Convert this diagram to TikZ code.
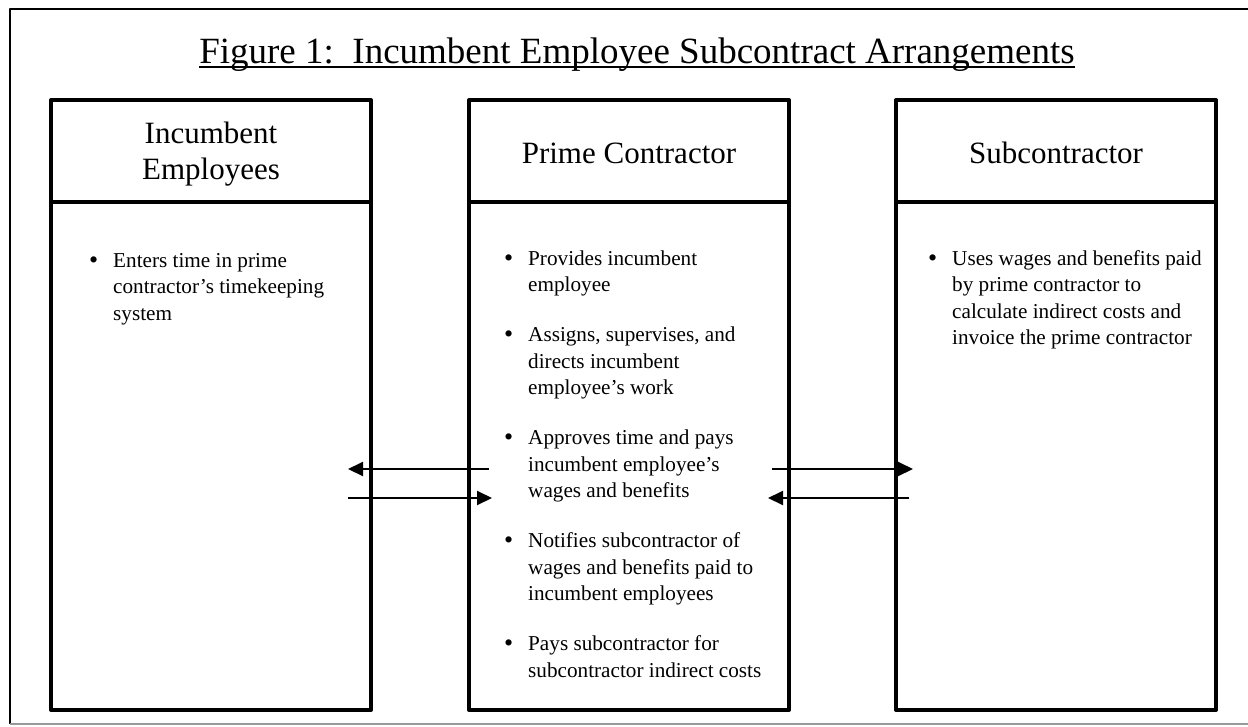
\documentclass[tikz,border=0pt]{standalone}
\usepackage{fontspec}
\setmainfont{Liberation Serif}
\usetikzlibrary{arrows.meta}

\begin{document}
\begin{tikzpicture}[x=1pt, y=-1pt, line join=round,
  box/.style={draw, line width=4pt, minimum width=320pt, minimum height=610pt, inner sep=0pt},
  headtext/.style={anchor=base, align=center, font=\fontsize{31}{36.5}\selectfont},
  bodytext/.style={anchor=base west, align=left, inner sep=0pt, font=\fontsize{21.2}{26.5}\selectfont},
  flow/.style={line width=2pt, -{Triangle[length=15pt, width=14pt]}}]

\useasboundingbox (0,0) rectangle (1248,726);

% page frame
\draw [line width=1.5pt] (1248,9) -- (10,9) -- (10,724);
\draw [line width=1.5pt, color=black!40] (10,724) -- (1248,724);

% title
\node [anchor=base, inner sep=0pt, font=\fontsize{37}{40}\selectfont] (title) at (637,63)
  {Figure 1:\ \ Incumbent Employee Subcontract Arrangements};
\draw [line width=2pt] ([yshift=-4pt]title.base west) -- ([yshift=-4pt]title.base east);

% the three boxes
\node [box] (inc) at (211,405) {};
\node [box] (prime) at (629,405) {};
\node [box] (sub) at (1056,405) {};

\coordinate (split) at (0,202);
\draw [line width=4pt] (inc.west |- split) -- (inc.east |- split);
\draw [line width=4pt] (prime.west |- split) -- (prime.east |- split);
\draw [line width=4pt] (sub.west |- split) -- (sub.east |- split);

% base of a node with several lines = its last line
\node [headtext] (inchead) at (211,179.5) {Incumbent\\Employees};
\node [headtext] (primehead) at (629,163) {Prime Contractor};
\node [headtext] (subhead) at (1056,163) {Subcontractor};

% notes
\node [bodytext] (incnote) at (89,320) {\makebox[24pt][l]{\raisebox{-1pt}{\fontsize{26}{26}\selectfont\textbullet}}Enters time in prime\\\hspace*{24pt}contractor's timekeeping\\\hspace*{24pt}system};

\node [bodytext] (primenote1) at (504,291.5) {\makebox[24pt][l]{\raisebox{-1pt}{\fontsize{26}{26}\selectfont\textbullet}}Provides incumbent\\\hspace*{24pt}employee};
\node [bodytext] (primenote2) at (504,394.5) {\makebox[24pt][l]{\raisebox{-1pt}{\fontsize{26}{26}\selectfont\textbullet}}Assigns, supervises, and\\\hspace*{24pt}directs incumbent\\\hspace*{24pt}employee's work};
\node [bodytext] (primenote3) at (504,497.5) {\makebox[24pt][l]{\raisebox{-1pt}{\fontsize{26}{26}\selectfont\textbullet}}Approves time and pays\\\hspace*{24pt}incumbent employee's\\\hspace*{24pt}wages and benefits};
\node [bodytext] (primenote4) at (504,600.5) {\makebox[24pt][l]{\raisebox{-1pt}{\fontsize{26}{26}\selectfont\textbullet}}Notifies subcontractor of\\\hspace*{24pt}wages and benefits paid to\\\hspace*{24pt}incumbent employees};
\node [bodytext] (primenote5) at (504,677) {\makebox[24pt][l]{\raisebox{-1pt}{\fontsize{26}{26}\selectfont\textbullet}}Pays subcontractor for\\\hspace*{24pt}subcontractor indirect costs};

\node [bodytext] (subnote) at (928,344.5) {\makebox[24pt][l]{\raisebox{-1pt}{\fontsize{26}{26}\selectfont\textbullet}}Uses wages and benefits paid\\\hspace*{24pt}by prime contractor to\\\hspace*{24pt}calculate indirect costs and\\\hspace*{24pt}invoice the prime contractor};

% arrows
\coordinate (upper) at (0,469);
\coordinate (lower) at (0,498);
\draw [flow] ([xshift=22pt]prime.west |- upper) -- ([xshift=-25pt]inc.east |- upper);
\draw [flow] ([xshift=-25pt]inc.east |- lower) -- ([xshift=25pt]prime.west |- lower);
\draw [flow] ([xshift=-19pt]prime.east |- upper) -- ([xshift=19pt]sub.west |- upper);
\draw [flow] ([xshift=15pt]sub.west |- lower) -- ([xshift=-23pt]prime.east |- lower);
\end{tikzpicture}
\end{document}
